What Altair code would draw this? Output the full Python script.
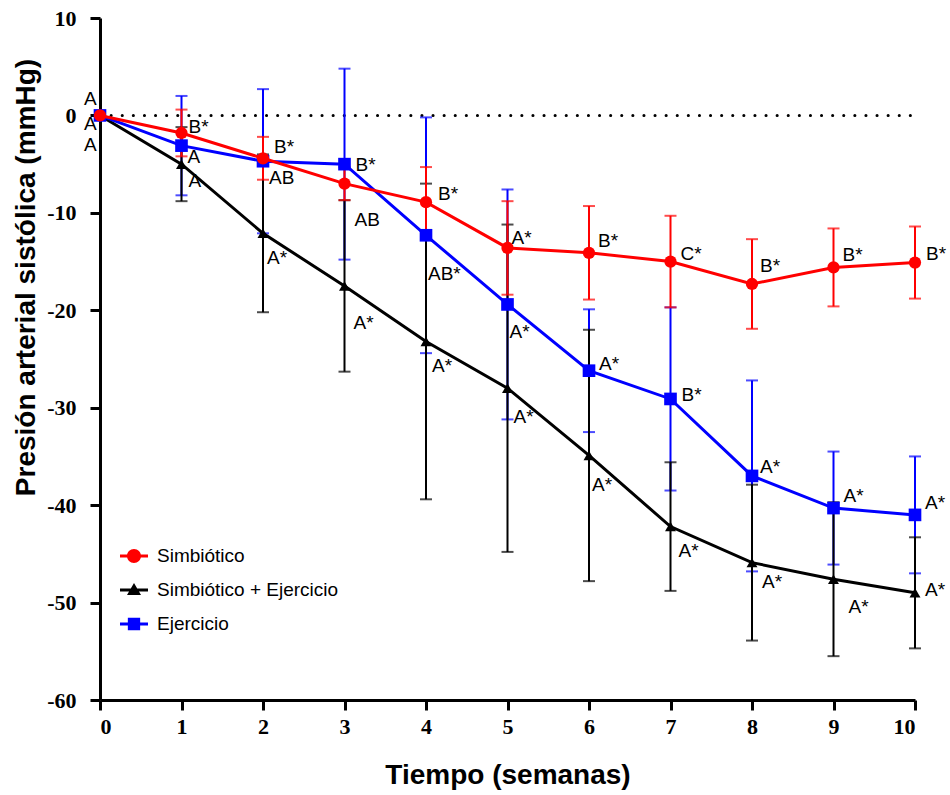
import altair as alt
import pandas as pd

weeks = list(range(11))
series_names = ["Simbiótico", "Simbiótico + Ejercicio", "Ejercicio"]
series_colors = ["#ff0000", "#000000", "#0000ff"]
series_shapes = ["circle", "triangle-up", "square"]
marker_sizes = [150, 120, 160]

sim_mean = [0, -1.8, -4.4, -7.0, -8.9, -13.6, -14.1, -15.0, -17.3, -15.6, -15.1]
sim_sd = [0, 2.4, 2.2, 1.7, 3.6, 4.8, 4.8, 4.7, 4.6, 4.0, 3.7]
sim_labels = ["A", "B*", "B*", "AB", "B*", "A*", "B*", "C*", "B*", "B*", "B*"]
sim_dx = [-16, 7, 11, 10, 12, 4, 9, 10, 8, 9, 11]
sim_dy = [-16, -6, -11, 36, -8, -10, -12, -8, -18, -12, -9]

comb_mean = [0, -5.0, -12.1, -17.5, -23.2, -28.0, -34.9, -42.2, -45.9, -47.6, -49.0]
comb_sd = [0, 3.8, 8.1, 8.8, 16.2, 16.8, 12.9, 6.6, 8.0, 7.9, 5.7]
comb_labels = ["A", "A", "A*", "A*", "A*", "A*", "A*", "A*", "A*", "A*", "A*"]
comb_dx = [-16, 7, 4, 9, 6, 6, 3, 8, 10, 15, 10]
comb_dy = [30, 17, 25, 37, 25, 29, 30, 24, 19, 28, -3]

ej_mean = [0, -3.1, -4.7, -5.0, -12.3, -19.4, -26.2, -29.1, -37.0, -40.3, -41.0]
ej_sd = [0, 5.1, 7.4, 9.8, 12.1, 11.8, 6.3, 9.4, 9.8, 5.8, 6.0]
ej_labels = ["A", "A", "AB", "B*", "AB*", "A*", "A*", "B*", "A*", "A*", "A*"]
ej_dx = [-16, 6, 6, 11, 2, 2, 10, 11, 8, 10, 10]
ej_dy = [9, 11, 17, 1, 39, 28, -7, -4, -9, -12, -12]

X_TITLE = "Tiempo (semanas)"
Y_TITLE = "Presión arterial sistólica (mmHg)"

W, H = 815, 682
X_DOM = [0, 10]
Y_DOM = [-60, 10]

rows = []
for name, mean, sd, labs, dxs, dys in [
    (series_names[0], sim_mean, sim_sd, sim_labels, sim_dx, sim_dy),
    (series_names[1], comb_mean, comb_sd, comb_labels, comb_dx, comb_dy),
    (series_names[2], ej_mean, ej_sd, ej_labels, ej_dx, ej_dy),
]:
    for w, m, s, l, dx, dy in zip(weeks, mean, sd, labs, dxs, dys):
        rows.append({
            "serie": name, "semana": w, "media": m,
            "lo": m - s, "hi": m + s, "etiqueta": l,
            "lx": w + dx * (X_DOM[1] - X_DOM[0]) / W,
            "ly": m - dy * (Y_DOM[1] - Y_DOM[0]) / H,
        })
df = pd.DataFrame(rows)

xs = alt.Scale(domain=X_DOM, nice=False, zero=False)
ys = alt.Scale(domain=Y_DOM, nice=False, zero=False)

x_axis = alt.Axis(values=weeks, labelExpr="'' + datum.value", title=X_TITLE,
                  labelFont="Liberation Serif", labelFontWeight="bold", labelFontSize=22,
                  labelPadding=6, tickSize=10, tickWidth=3, tickColor="black",
                  domainWidth=3, domainColor="black", labelColor="black",
                  titleFont="Liberation Sans", titleFontWeight="bold", titleFontSize=28,
                  titleColor="black", titleY=75, titleBaseline="middle", grid=False)
y_axis = alt.Axis(values=list(range(-60, 11, 10)), labelExpr="'' + datum.value",
                  title=Y_TITLE,
                  labelFont="Liberation Serif", labelFontWeight="bold", labelFontSize=22,
                  labelPadding=14, tickSize=10, tickWidth=3, tickColor="black",
                  domainWidth=3, domainColor="black", labelColor="black",
                  titleFont="Liberation Sans", titleFontWeight="bold", titleFontSize=28,
                  titleColor="black", titleX=-74, titleY=259, titleAngle=-90,
                  titleAlign="center", titleBaseline="middle", grid=False)


def X(field):
    return alt.X(field, scale=xs, title=X_TITLE)


def Y(field):
    return alt.Y(field, scale=ys, title=Y_TITLE)


base = alt.Chart(df)

zero_df = pd.DataFrame({"x0": [X_DOM[0]], "x1": [X_DOM[1]], "y": [0]})
zero_line = alt.Chart(zero_df).mark_rule(
    color="black", strokeWidth=3, strokeDash=[0.1, 11], strokeCap="round"
).encode(
    x=alt.X("x0:Q", scale=xs, axis=x_axis, title=X_TITLE),
    x2="x1:Q",
    y=alt.Y("y:Q", scale=ys, axis=y_axis, title=Y_TITLE),
)

layers = [zero_line]

# error bars: blue, black, red
for idx in [2, 1, 0]:
    name = series_names[idx]
    layers.append(
        base.transform_filter(alt.datum.serie == name).mark_errorbar(
            ticks={"size": 12}, thickness=2, color=series_colors[idx]
        ).encode(
            x=X("semana:Q"),
            y=Y("lo:Q"),
            y2="hi:Q",
        )
    )

# lines and markers: black, blue, red
for idx in [1, 2, 0]:
    name = series_names[idx]
    sub = base.transform_filter(alt.datum.serie == name)
    layers.append(
        sub.mark_line(strokeWidth=3, color=series_colors[idx]).encode(
            x=X("semana:Q"), y=Y("media:Q"),
        )
    )
    layers.append(
        sub.mark_point(shape=series_shapes[idx], filled=True, opacity=1,
                       size=marker_sizes[idx], color=series_colors[idx]).encode(
            x=X("semana:Q"), y=Y("media:Q"),
        )
    )

# letters
layers.append(
    base.mark_text(align="left", baseline="middle", font="Liberation Sans",
                   fontSize=19, color="black").encode(
        x=X("lx:Q"), y=Y("ly:Q"), text="etiqueta:N",
    )
)

# legend (line + marker symbols)
legend_paths = [
    "M-1,-0.11 H1 V0.11 H-1 Z M-0.5,0 A0.5,0.5 0 1,1 0.5,0 A0.5,0.5 0 1,1 -0.5,0 Z",
    "M-1,-0.11 H1 V0.11 H-1 Z M0,-0.5 L0.5,0.36 L-0.5,0.36 Z",
    "M-1,-0.11 H1 V0.11 H-1 Z M-0.44,-0.44 H0.44 V0.44 H-0.44 Z",
]
leg = dict(title=None, orient="none", legendX=20, legendY=524, symbolSize=784,
           symbolStrokeWidth=0, labelFont="Liberation Sans", labelFontSize=19,
           labelColor="black", labelLimit=400, rowPadding=10, padding=0, labelOffset=9)
layers.append(
    base.transform_filter(alt.datum.semana < 0).mark_point(filled=True, opacity=1).encode(
        x=X("semana:Q"), y=Y("media:Q"),
        color=alt.Color("serie:N", scale=alt.Scale(domain=series_names, range=series_colors),
                        legend=alt.Legend(**leg)),
        shape=alt.Shape("serie:N", scale=alt.Scale(domain=series_names, range=legend_paths),
                        legend=alt.Legend(**leg)),
    )
)

chart = alt.layer(*layers).properties(
    width=W, height=H,
    padding={"left": 100, "top": 18, "right": 35, "bottom": 95},
    autosize=alt.AutoSizeParams(type="none"),
    background="white",
).configure_view(stroke=None)

chart.save("out.html", embed_options={"renderer": "svg", "actions": False})
